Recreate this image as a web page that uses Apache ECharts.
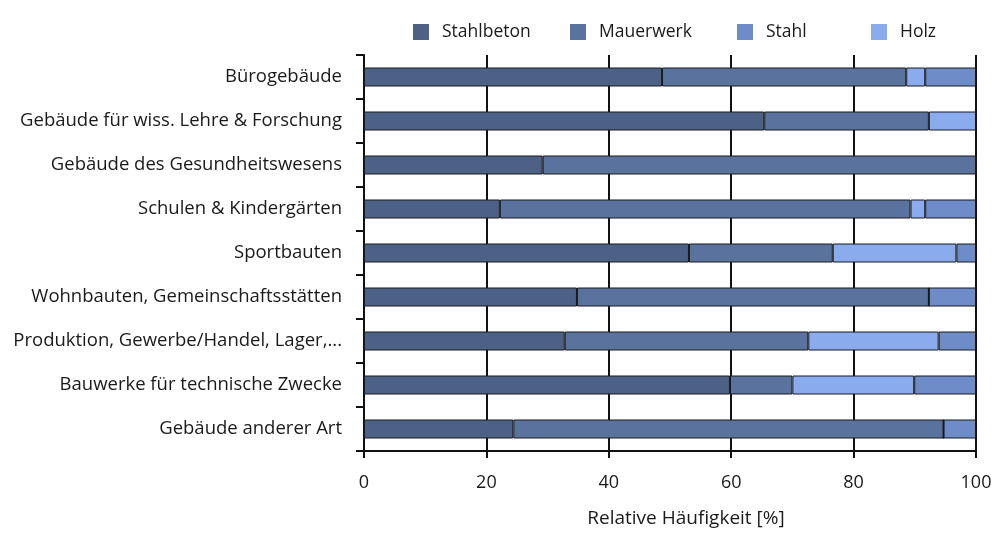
<!DOCTYPE html>
<html>
<head>
<meta charset="utf-8">
<title>Relative Häufigkeit</title>
<script src="https://cdn.jsdelivr.net/npm/echarts@6/dist/echarts.min.js"></script>
<style>
html,body{margin:0;padding:0;background:#fff;}
#chart{width:1000px;height:533px;}
</style>
</head>
<body>
<div id="chart"></div>
<script>
// Daten
var kategorien = ['Bürogebäude', 'Gebäude für wiss. Lehre & Forschung', 'Gebäude des Gesundheitswesens',
	'Schulen & Kindergärten', 'Sportbauten', 'Wohnbauten, Gemeinschaftsstätten',
	'Produktion, Gewerbe/Handel, Lager,...', 'Bauwerke für technische Zwecke', 'Gebäude anderer Art'];
var stahlbeton = [48.7, 65.4, 29.2, 22.2, 53.1, 34.8, 32.8, 59.8, 24.4];
var mauerwerk  = [39.9, 26.9, 70.8, 67.1, 23.5, 57.5, 39.8, 10.2, 70.3];
var holz       = [3.1, 7.7, 0, 2.4, 20.2, 0, 21.3, 19.9, 0];
var stahl      = [8.3, 0, 0, 8.3, 3.2, 7.7, 6.1, 10.1, 5.3];
var xTicks = [0, 20, 40, 60, 80, 100];

var farben = {Stahlbeton:'#4d6086', Mauerwerk:'#5a729e', Stahl:'#6d8cc8', Holz:'#8aabee'};
var schrift = '"Open Sans", sans-serif';

var chart = echarts.init(document.getElementById('chart'));

function reihe(name, daten){
	return {
		name: name,
		type: 'bar',
		stack: 'gesamt',
		barWidth: 19,
		data: daten,
		itemStyle: {color: farben[name], borderColor: '#1a1a1a', borderWidth: 1},
		emphasis: {disabled: true}
	};
}

function legende(name, left){
	return {
		data: [name], left: left, top: 18,
		itemWidth: 16, itemHeight: 16,
		icon: 'rect',
		itemStyle: {borderWidth: 0},
		textStyle: {fontFamily: schrift, fontSize: 17.5, color: '#1a1a1a', padding: [0, 0, 0, 8]}
	};
}

chart.setOption({
	animation: false,
	legend: [legende('Stahlbeton', 408), legende('Mauerwerk', 565), legende('Stahl', 732), legende('Holz', 866)],
	grid: {left: 364, right: 24, top: 55, bottom: 78},
	xAxis: {
		type: 'value',
		min: 0, max: 100, interval: 20,
		name: 'Relative Häufigkeit [%]',
		nameLocation: 'middle',
		nameGap: 58,
		nameTextStyle: {fontFamily: schrift, fontSize: 19, color: '#1a1a1a', padding: [0, 0, 0, 32]},
		axisLine: {show: true, lineStyle: {color: '#111', width: 2}},
		axisTick: {show: true, length: 7, lineStyle: {color: '#111', width: 2}},
		axisLabel: {
			fontFamily: schrift, fontSize: 18, color: '#1a1a1a', margin: 23,
			formatter: function(v){ return xTicks.indexOf(v) >= 0 ? String(v) : ''; }
		},
		splitLine: {show: true, lineStyle: {color: '#111', width: 2}}
	},
	yAxis: {
		type: 'category',
		data: kategorien,
		inverse: true,
		axisLine: {show: true, lineStyle: {color: '#111', width: 2}},
		axisTick: {show: true, length: 8, lineStyle: {color: '#111', width: 2}},
		axisLabel: {fontFamily: schrift, fontSize: 18.5, color: '#1a1a1a', margin: 22},
		splitLine: {show: false}
	},
	series: [
		reihe('Stahlbeton', stahlbeton),
		reihe('Mauerwerk', mauerwerk),
		reihe('Holz', holz),
		reihe('Stahl', stahl)
	]
});
</script>
</body>
</html>
